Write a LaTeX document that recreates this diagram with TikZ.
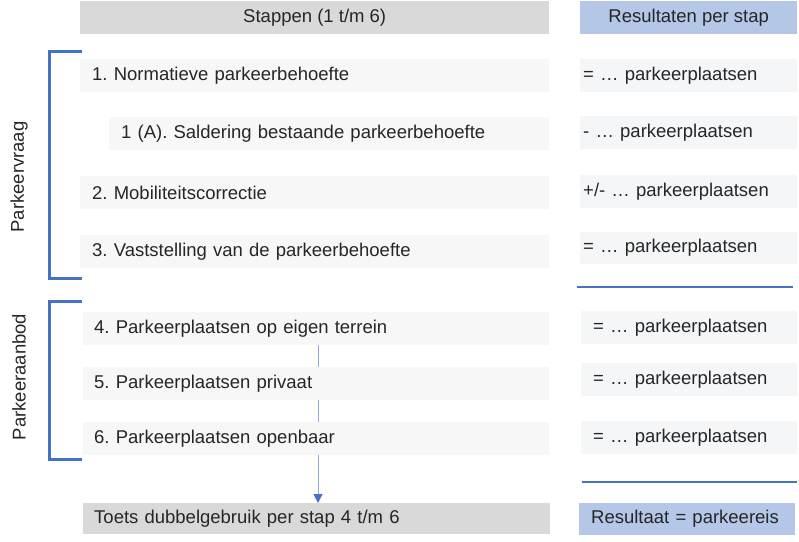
\documentclass[tikz,border=0pt]{standalone}
\usepackage{fontspec}
\setmainfont{Liberation Sans}
\usepackage{tikz}
\usetikzlibrary{arrows.meta}
\frenchspacing
\definecolor{kopgrijs}{HTML}{D9D9D9}
\definecolor{stapgrijs}{HTML}{F7F7F7}
\definecolor{resgrijs}{HTML}{F5F6F8}
\definecolor{kopblauw}{HTML}{B4C7E7}
\definecolor{lijnblauw}{HTML}{4472C4}
\definecolor{pijlblauw}{HTML}{8FAADC}

\begin{document}
\begin{tikzpicture}[x=1pt, y=-1pt,
		every node/.style={font=\fontsize{18.5}{22}\selectfont, text=black!85},
		vak/.style={anchor=north west, minimum height=33pt, inner ysep=0pt, align=left},
		stapvak/.style={vak, fill=stapgrijs, inner xsep=12pt, text width=#1},
		resvak/.style={vak, fill=resgrijs, inner xsep=3pt, text width=211pt},
		resvakb/.style={vak, fill=resgrijs, inner xsep=12pt, text width=192pt},
		haak/.style={lijnblauw, line width=3pt},
		scheiding/.style={lijnblauw, line width=2pt}]
			\useasboundingbox (0,0) rectangle (799,541);
			\node [vak, fill=kopgrijs, minimum width=469pt, align=center] (stappen) at (80,1) {Stappen (1 t/m 6)};
			\node [vak, fill=kopblauw, minimum width=217pt, align=center] (resultaten) at (580,1) {Resultaten per stap};
			\node [stapvak=445pt] (s1) at (80,59) {1. Normatieve parkeerbehoefte};
			\node [stapvak=416pt] (s1a) at (109,117) {1 (A). Saldering bestaande parkeerbehoefte};
			\node [stapvak=445pt] (s2) at (80,176) {2. Mobiliteitscorrectie};
			\node [stapvak=445pt] (s3) at (80,235) {3. Vaststelling van de parkeerbehoefte};
			\node [stapvak=444pt, inner xsep=11pt] (s4) at (83,312) {4. Parkeerplaatsen op eigen terrein};
			\node [stapvak=444pt, inner xsep=11pt] (s5) at (83,367) {5. Parkeerplaatsen privaat};
			\node [stapvak=444pt, inner xsep=11pt] (s6) at (83,422) {6. Parkeerplaatsen openbaar};
			\node [stapvak=445pt, inner xsep=11pt, fill=kopgrijs, minimum height=31pt] (toets) at (83,503) {Toets dubbelgebruik per stap 4 t/m 6};
			\node [resvak] (r1) at (580,59) {= … parkeerplaatsen};
			\node [resvak] (r1a) at (580,116) {- … parkeerplaatsen};
			\node [resvak] (r2) at (580,175) {+/- … parkeerplaatsen};
			\node [resvak, minimum height=32pt] (r3) at (580,232) {= … parkeerplaatsen};
			\node [resvakb] (r4) at (581,311) {= … parkeerplaatsen};
			\node [resvakb] (r5) at (581,363) {= … parkeerplaatsen};
			\node [resvakb] (r6) at (581,421) {= … parkeerplaatsen};
			\node [resvakb, fill=kopblauw, minimum height=32pt] (resultaat) at (579,503) {Resultaat = parkeereis};
			\node [rotate=90] (vraag) at (19,177) {Parkeervraag};
			\node [rotate=90] (aanbod) at (19,377) {Parkeeraanbod};
			\draw [haak] (82,51) -- (49,51) -- (49,278) -- (82,278);
			\draw [haak] (82,301) -- (49,301) -- (49,459) -- (82,459);
			\draw [scheiding] (577,287) -- (793,287);
			\draw [scheiding] (582,482) -- (797,482);
			\coordinate (as) at (318,0);
			\draw [pijlblauw, line width=1pt] (s4.south -| as) to (s5.north -| as);
			\draw [pijlblauw, line width=1pt] (s5.south -| as) to (s6.north -| as);
			\draw [pijlblauw, line width=1pt, -{Triangle[width=9pt, length=9pt, color=lijnblauw]}] (s6.south -| as) to (toets.north -| as);
		\end{tikzpicture}
\end{document}
